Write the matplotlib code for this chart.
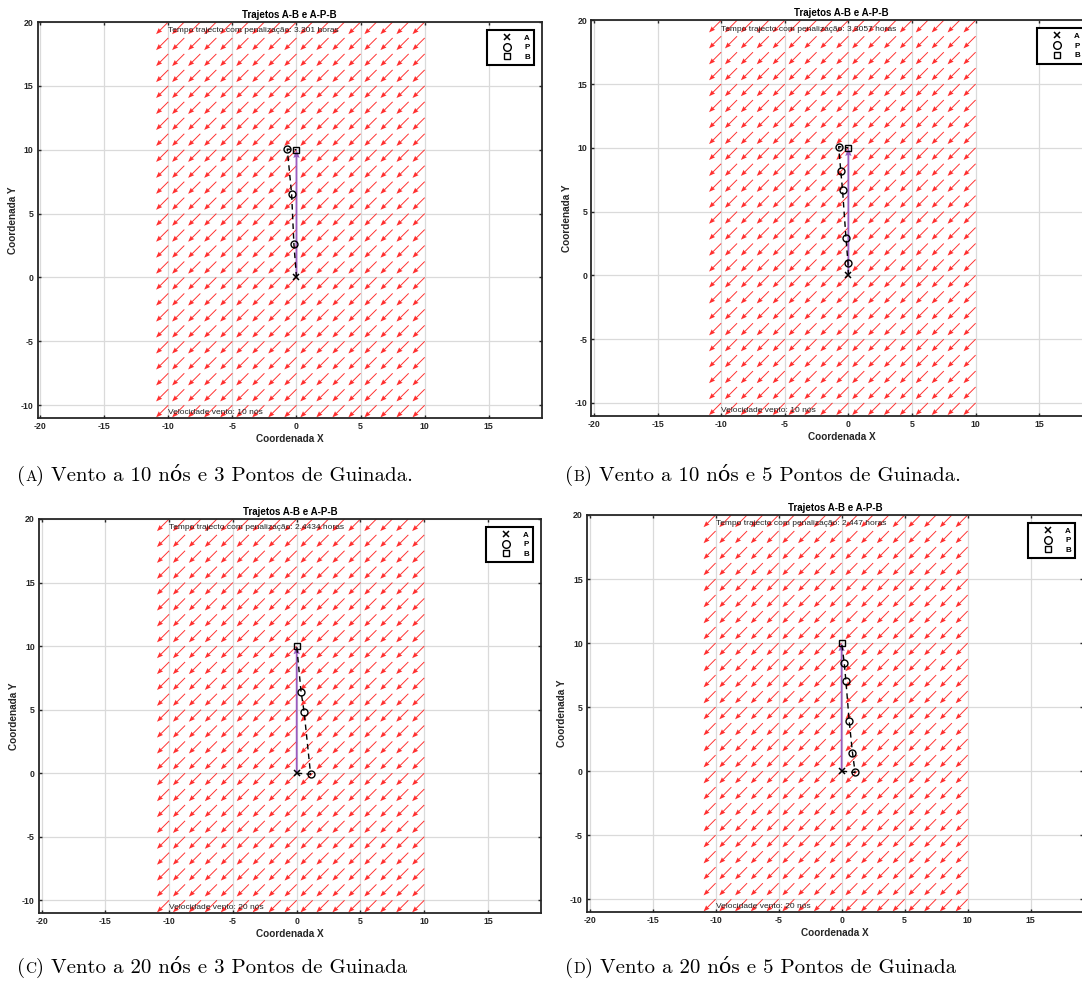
import matplotlib.pyplot as plt
import numpy as np
from matplotlib.lines import Line2D

plt.rcParams['font.family'] = ['Liberation Sans', 'DejaVu Sans']
plt.rcParams['axes.unicode_minus'] = False

# dados
paineis = ['A', 'B', 'C', 'D']
vento_nos = [10, 10, 20, 20]
tempo_horas = ['3.301', '3.3057', '2.4434', '2.447']
legendas = ['Vento a 10 nós e 3 Pontos de Guinada.',
            'Vento a 10 nós e 5 Pontos de Guinada.',
            'Vento a 20 nós e 3 Pontos de Guinada',
            'Vento a 20 nós e 5 Pontos de Guinada']

ponto_a = (0, 0)
ponto_b = (0, 10)

# pontos de guinada (P), pela ordem do trajecto de A para B
p_x = [[-0.2, -0.38, -0.72],
       [-0.03, -0.19, -0.46, -0.6, -0.76],
       [1.09, 0.58, 0.34],
       [1.07, 0.86, 0.6, 0.34, 0.21]]
p_y = [[2.6, 6.55, 10.05],
       [0.97, 2.95, 6.7, 8.2, 10.1],
       [-0.08, 4.83, 6.42],
       [-0.1, 1.45, 3.92, 7.04, 8.44]]

# campo de vento (uniforme, para sudoeste)
malha_x = np.arange(-10, 10.01, 1.25)
malha_y = np.arange(-10, 20.01, 1.25)
vento_u = -1.0
vento_v = -1.0

# caixas dos eixos em pixeis: esquerda, topo, direita, base
caixas = [(37.5, 22, 542, 418),
          (591.4, 20.3, 1092, 415.7),
          (39, 519, 541, 913),
          (587, 515, 1083, 912)]
pos_legenda = [(17, 481), (565, 481), (17, 973), (565, 973)]

W, H = 1082, 983
fig = plt.figure(figsize=(W / 100, H / 100), dpi=100)
roxo = '#9a5cc0'

for i in range(4):
    l, t, r, b = caixas[i]
    ax = fig.add_axes([l / W, 1 - b / H, (r - l) / W, (b - t) / H])

    X, Y = np.meshgrid(malha_x, malha_y)
    U = np.full(X.shape, vento_u)
    V = np.full(X.shape, vento_v)
    ax.quiver(X, Y, U, V, angles='xy', scale_units='xy', scale=1.05,
              color='#ff3030', width=0.0019, headwidth=5, headlength=6.5,
              headaxislength=6, zorder=2)

    ax.quiver(ponto_a[0], ponto_a[1], ponto_b[0] - ponto_a[0], ponto_b[1] - ponto_a[1],
              angles='xy', scale_units='xy', scale=1, color=roxo, width=0.0036,
              headwidth=3.5, headlength=4.5, headaxislength=4, zorder=3)

    tx = [ponto_a[0]] + p_x[i] + [ponto_b[0]]
    ty = [ponto_a[1]] + p_y[i] + [ponto_b[1]]
    ax.plot(tx, ty, color='black', lw=1, dashes=(4, 3), zorder=4)
    ax.plot(ponto_a[0], ponto_a[1], 'x', color='black', ms=5, mew=1.1, zorder=5)
    ax.plot(p_x[i], p_y[i], 'o', color='black', mfc='none', ms=5, mew=1, zorder=5)
    ax.plot(ponto_b[0], ponto_b[1], 's', color='black', mfc='none', ms=4.5, mew=1, zorder=5)

    ax.text(-10, 19.3, 'Tempo trajecto com penalização: ' + tempo_horas[i] + ' horas',
            fontsize=6, va='center', ha='left', color='#222222', zorder=6)
    ax.text(-10, -10.6, 'Velocidade vento: ' + str(vento_nos[i]) + ' nós',
            fontsize=6, va='center', ha='left', color='#222222', zorder=6)

    ax.set_xlim(-20.2, 19.15)
    ax.set_ylim(-11, 20)
    ax.set_xticks(np.arange(-20, 16, 5))
    ax.set_yticks(np.arange(-10, 21, 5))
    ax.grid(True, color='#dadada', lw=0.9)
    ax.set_axisbelow(True)
    ax.tick_params(direction='in', top=True, right=True, length=2.5, width=1,
                   labelsize=6.3, pad=3, colors='#262626')
    for lab in ax.get_xticklabels() + ax.get_yticklabels():
        lab.set_fontweight('bold')
    for s in ax.spines.values():
        s.set_linewidth(1.3)
        s.set_color('#262626')

    ax.set_title('Trajetos A-B e A-P-B', fontsize=7, fontweight='bold', pad=3)
    ax.set_xlabel('Coordenada X', fontsize=7.2, fontweight='bold', labelpad=2, color='#262626')
    ax.set_ylabel('Coordenada Y', fontsize=7.2, fontweight='bold', labelpad=2, color='#262626')

    handles = [Line2D([], [], ls='none', marker='x', color='black', ms=5, mew=1.1),
               Line2D([], [], ls='none', marker='o', color='black', mfc='none', ms=5.5, mew=1),
               Line2D([], [], ls='none', marker='s', color='black', mfc='none', ms=4.5, mew=1)]
    leg = ax.legend(handles, ['A', 'P', 'B'], loc='upper right', fontsize=5.8,
                    handlelength=4, handletextpad=0.1, borderpad=0.5,
                    labelspacing=0.26, borderaxespad=1.0, fancybox=False,
                    framealpha=1, edgecolor='black')
    leg.get_frame().set_linewidth(1.5)
    for txt in leg.get_texts():
        txt.set_fontweight('bold')

# legendas das subfiguras com a letra em versaletes
serif = ['cmr10', 'DejaVu Serif']
fig.canvas.draw()
rend = fig.canvas.get_renderer()
for i in range(4):
    x, y = pos_legenda[i]
    x = x / W
    y = 1 - y / H
    t1 = fig.text(x, y, '(', fontsize=15, family=serif, va='baseline')
    x += t1.get_window_extent(rend).width / W
    t2 = fig.text(x, y, paineis[i], fontsize=11, family=serif, va='baseline')
    x += t2.get_window_extent(rend).width / W
    fig.text(x, y, ') ' + legendas[i], fontsize=15, family=serif, va='baseline')

fig.savefig('out.png', dpi=100)
